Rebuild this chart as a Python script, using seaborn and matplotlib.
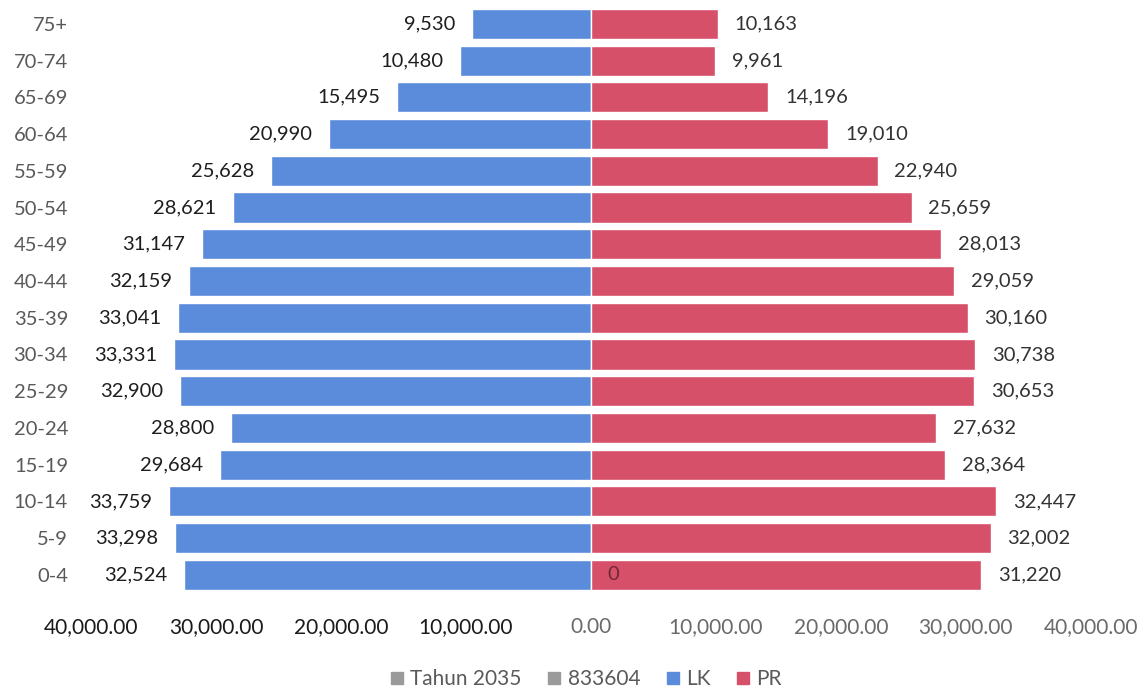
import matplotlib
matplotlib.use("Agg")
import matplotlib.pyplot as plt
import matplotlib.ticker as mticker
from matplotlib.lines import Line2D
import pandas as pd
import seaborn as sns

sns.set_theme(style="white")
plt.rcParams["font.family"] = ["Lato", "DejaVu Sans"]

AGE_GROUPS = ["75+", "70-74", "65-69", "60-64", "55-59", "50-54", "45-49", "40-44",
              "35-39", "30-34", "25-29", "20-24", "15-19", "10-14", "5-9", "0-4"]
LK = [9530, 10480, 15495, 20990, 25628, 28621, 31147, 32159,
      33041, 33331, 32900, 28800, 29684, 33759, 33298, 32524]
PR = [10163, 9961, 14196, 19010, 22940, 25659, 28013, 29059,
      30160, 30738, 30653, 27632, 28364, 32447, 32002, 31220]
X_TICKS = [-40000, -30000, -20000, -10000, 0, 10000, 20000, 30000, 40000]
LEGEND_LABELS = ["Tahun 2035", "833604", "LK", "PR"]

BLUE = "#5A8CDB"
RED = "#D6506A"
GREY = "#9A9A9A"

df = pd.DataFrame({"age": AGE_GROUPS, "lk": [-v for v in LK], "pr": PR})

fig = plt.figure(figsize=(11.44, 6.93), dpi=100)
ax = fig.add_axes([0.0795, 0.144, 0.874, 0.848])

sns.barplot(data=df, y="age", x="lk", order=AGE_GROUPS, color=BLUE,
            width=0.82, saturation=1, ax=ax, orient="h")
sns.barplot(data=df, y="age", x="pr", order=AGE_GROUPS, color=RED,
            width=0.82, saturation=1, ax=ax, orient="h")

# value labels
for i, (l, r) in enumerate(zip(LK, PR)):
    ax.annotate(f"{l:,}", (-l, i), xytext=(-12, 0), textcoords="offset points",
                ha="right", va="center", fontsize=14.5, color="#1e1e1e")
    ax.annotate(f"{r:,}", (r, i), xytext=(12, 0), textcoords="offset points",
                ha="left", va="center", fontsize=14.5, color="#333333")
# stray zero label from the hidden series
ax.annotate("0", (0, len(AGE_GROUPS) - 1), xytext=(12, 0), textcoords="offset points",
            ha="left", va="center", fontsize=14.5, color="#6e2a35")

ax.set_xlim(-40000, 40000)
ax.set_xticks(X_TICKS)
ax.xaxis.set_major_formatter(mticker.FuncFormatter(lambda v, p: f"{abs(v):,.2f}"))
ax.tick_params(axis="x", length=0, pad=17, labelsize=15)
ax.tick_params(axis="y", length=0, pad=16.5, labelsize=14.5, labelcolor="#595959")
for t, v in zip(ax.get_xticklabels(), X_TICKS):
    t.set_color("#1a1a1a" if v < 0 else "#6a6a6a")

ax.set_xlabel("")
ax.set_ylabel("")
sns.despine(ax=ax, left=True, bottom=True)
ax.grid(False)

handles = [Line2D([], [], marker="s", linestyle="", markersize=9, color=c)
           for c in [GREY, GREY, BLUE, RED]]
fig.legend(handles, LEGEND_LABELS, loc="lower center", bbox_to_anchor=(0.512, -0.021),
           ncol=4, frameon=False, fontsize=15, handlelength=0.7, handletextpad=0.3,
           columnspacing=1.2, labelcolor="#5a5a5a")

fig.savefig("out.png", dpi=100)
